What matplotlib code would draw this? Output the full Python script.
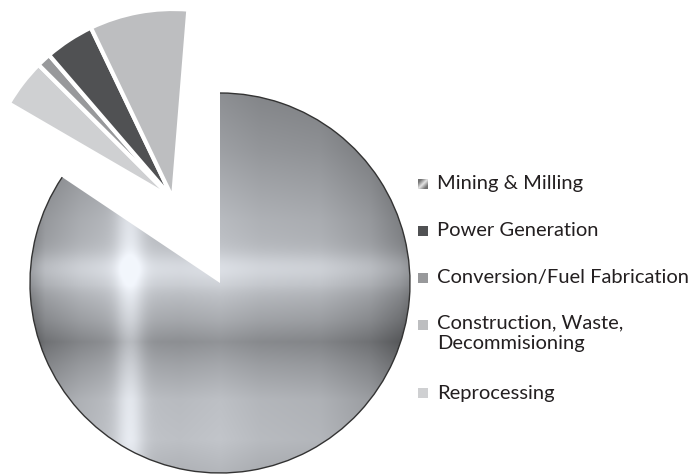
import numpy as np
import matplotlib.pyplot as plt
from matplotlib.patches import Rectangle, Arc

# Share of life-cycle emissions by stage (percent)
labels = ["Mining & Milling", "Power Generation", "Conversion/Fuel Fabrication",
          "Construction, Waste,\nDecommisioning", "Reprocessing"]
shares = [84.4, 4.2, 1.2, 8.4, 4.1]
colors = ["#9b9ea2", "#505153", "#98999b", "#bdbec0", "#cfd0d2"]

# small slices, clockwise order in the pulled-out group
small_order = [4, 2, 1, 3]

fig = plt.figure(figsize=(6.94, 4.74), dpi=100)
ax = fig.add_axes([0, 0, 1, 1])

PX = 190.0  # pixels per unit radius
CX, CY = 220.0, 283.0  # pie centre in pixels (from top-left)

def to_data(px, py):
    return (px - CX) / PX, (CY - py) / PX

# big slice stays in place
main, _ = ax.pie([shares[0] / 100], startangle=90, counterclock=False, center=(0, 0),
                 normalize=False, colors=[colors[0]], wedgeprops=dict(linewidth=0))
mining = main[0]
mining.set_facecolor("none")

# small slices pulled out together as a group, turned a little
off = to_data(173, 199)
small, _ = ax.pie([shares[i] / 100 for i in small_order], startangle=149.8,
                  counterclock=False, center=off, normalize=False,
                  colors=[colors[i] for i in small_order],
                  wedgeprops=dict(edgecolor="white", linewidth=3))

# brushed-metal look for the big slice
px = np.linspace(CX - PX, CX + PX, 500)
py = np.linspace(CY - PX, CY + PX, 500)
col = np.interp(px, [30, 45, 80, 120, 180, 220, 260, 320, 370, 400, 410],
                [0.50, 0.62, 0.70, 0.76, 0.74, 0.76, 0.72, 0.70, 0.62, 0.52, 0.46])
col = col + 0.16 * np.exp(-((px - 130) / 14) ** 2)
row = np.interp(py, [93, 150, 220, 285, 320, 342, 365, 400, 440, 473],
                [0.54, 0.61, 0.72, 0.78, 0.66, 0.56, 0.64, 0.74, 0.76, 0.70])
row = row + 0.10 * np.exp(-((py - 268) / 16) ** 2)
v = np.clip(0.72 + (col[None, :] - 0.72) + (row[:, None] - 0.72), 0.3, 1.0)
tex = np.dstack([v * 0.95, v * 0.965, v * 0.99]).clip(0, 1)
im = ax.imshow(tex, extent=[-1, 1, -1, 1], origin="upper", interpolation="bilinear", zorder=1)
im.set_clip_path(mining)
mining.set_zorder(2)

rim = Arc((0, 0), 2, 2, theta1=mining.theta1, theta2=mining.theta2,
          color="#333333", linewidth=1.0, zorder=3)
ax.add_patch(rim)

# legend drawn by hand so the squares sit on the first text line
sq = 10 / PX
row_px = [184, 231, 278, 325, 393]
tx, _ = to_data(437, 0)
for i, lab in enumerate(labels):
    x0, y0 = to_data(418, row_px[i])
    if i == 0:
        g = np.linspace(0, 1, 20)
        icon = 0.45 + 0.45 * np.clip(1 - np.abs(g[None, :] - g[::-1, None]) * 1.5, 0, 1)
        ax.imshow(np.dstack([icon, icon, icon]), extent=[x0, x0 + sq, y0 - sq / 2, y0 + sq / 2],
                  zorder=4)
    else:
        ax.add_patch(Rectangle((x0, y0 - sq / 2), sq, sq, facecolor=colors[i],
                               edgecolor="none", zorder=4))
    if "\n" in lab:
        ax.text(tx, y0 + 11 / PX, lab, fontfamily="Lato", fontsize=14.5, color="#231f20",
                va="top", linespacing=1.32)
    else:
        ax.text(tx, y0, lab, fontfamily="Lato", fontsize=14.5, color="#231f20", va="center")

ax.set_xlim(-CX / PX, (694 - CX) / PX)
ax.set_ylim(-(474 - CY) / PX, CY / PX)
ax.set_aspect("equal")
ax.axis("off")

fig.savefig("out.png", dpi=100)
